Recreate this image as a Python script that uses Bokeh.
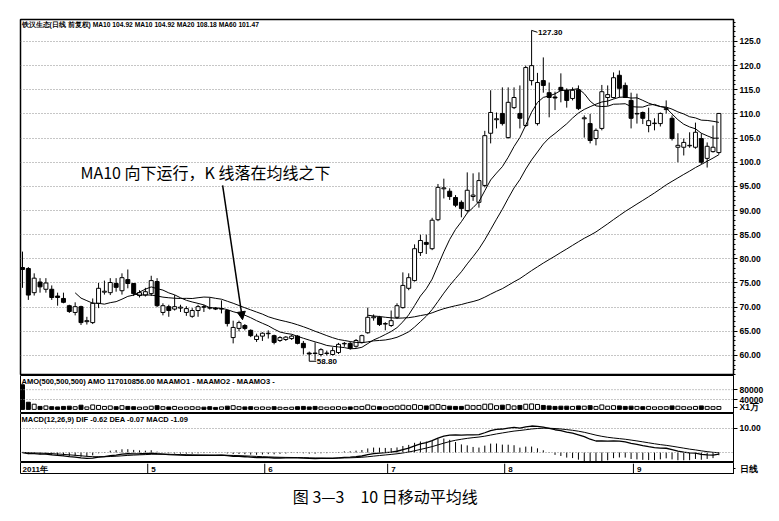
import numpy as np
import pandas as pd
from bokeh.plotting import figure
from bokeh.layouts import column
from bokeh.models import (Range1d, SingleIntervalTicker, FixedTicker, CustomJSTickFormatter,
                          Label, Arrow, NormalHead, Span)
from bokeh.core.properties import value
from bokeh.embed import file_html
from bokeh.resources import INLINE

# ---------------- data ----------------
open_ = [78.2, 78.0, 73.0, 75.2, 73.7, 73.7, 72.3, 71.8, 70.3, 68.9,
         70.1, 67.0, 66.8, 70.8, 73.1, 73.0, 74.9, 73.4, 75.7, 74.9,
         72.4, 72.5, 72.8, 75.3, 68.9, 70.1, 69.6, 69.8, 68.9, 68.1,
         69.3, 70.1, 69.9, 69.8, 69.6, 69.3, 63.7, 65.6, 66.2, 65.2,
         63.3, 64.0, 64.5, 64.1, 63.1, 63.3, 63.5, 64.0, 62.5, 60.5,
         60.5, 60.2, 60.4, 60.2, 60.6, 62.4, 62.5, 61.9, 62.7, 64.7,
         67.8, 67.9, 66.5, 66.2, 67.9, 69.9, 73.9, 75.5, 81.3, 83.4,
         82.1, 88.1, 94.5, 94.0, 92.7, 91.7, 90.0, 92.9, 91.7, 95.2,
         106.0, 108.8, 110.1, 105.1, 111.3, 110.1, 107.6, 116.9, 108.0, 116.9,
         114.4, 113.5, 115.5, 114.9, 113.2, 115.0, 109.0, 108.0, 104.9, 107.0,
         113.4, 113.4, 118.0, 115.9, 112.8, 110.0, 110.3, 107.6, 108.0, 108.0,
         110.9, 109.1, 103.1, 103.1, 103.4, 103.1, 104.9, 100.8, 102.2, 102.0]
high = [81.5, 78.3, 77.0, 76.0, 76.0, 74.5, 73.0, 73.0, 70.5, 71.0,
        70.3, 68.0, 71.8, 75.0, 75.5, 76.0, 76.0, 77.0, 77.8, 75.0,
        73.5, 74.0, 76.5, 76.0, 70.8, 70.5, 72.5, 70.5, 70.2, 69.8,
        70.5, 70.5, 72.0, 70.0, 71.4, 69.5, 67.2, 67.2, 66.5, 65.4,
        64.5, 64.8, 65.2, 64.3, 64.0, 64.0, 64.3, 64.2, 63.0, 60.8,
        62.7, 61.5, 61.0, 61.7, 62.6, 62.8, 62.8, 63.4, 64.3, 69.9,
        68.5, 68.2, 66.9, 69.3, 70.8, 77.2, 77.0, 83.0, 85.0, 85.0,
        88.5, 95.5, 96.6, 94.6, 93.2, 92.1, 97.9, 97.7, 97.9, 106.5,
        114.9, 110.3, 115.5, 115.5, 115.5, 115.9, 120.0, 127.3, 118.5, 121.7,
        116.5, 114.6, 118.4, 115.3, 115.5, 115.9, 109.7, 110.0, 107.0, 116.0,
        115.9, 118.6, 119.0, 116.5, 114.4, 114.2, 110.5, 111.3, 109.1, 110.3,
        112.8, 109.7, 106.0, 104.9, 106.2, 108.2, 106.0, 104.1, 107.6, 110.2]
low = [74.0, 71.5, 72.4, 73.0, 73.0, 71.5, 70.3, 70.8, 68.8, 68.3,
       66.3, 66.4, 66.5, 69.8, 72.6, 72.5, 73.2, 72.6, 73.9, 72.3,
       72.0, 72.2, 72.3, 70.0, 68.3, 68.0, 69.3, 69.0, 68.2, 67.8,
       68.0, 69.0, 69.5, 69.4, 68.7, 66.0, 62.5, 65.0, 65.2, 63.8,
       62.8, 63.0, 63.5, 62.3, 62.8, 63.0, 63.2, 62.3, 60.2, 58.8,
       59.0, 59.8, 60.0, 60.0, 60.3, 61.8, 61.2, 61.6, 62.5, 64.5,
       67.2, 66.1, 65.2, 65.9, 67.6, 69.7, 73.5, 75.3, 80.6, 81.0,
       81.8, 87.8, 92.5, 92.2, 90.7, 88.6, 89.6, 92.0, 90.6, 94.8,
       103.9, 107.0, 107.6, 104.9, 111.0, 107.0, 107.3, 115.9, 107.6, 114.4,
       109.3, 110.8, 112.4, 111.3, 112.8, 110.8, 105.1, 103.9, 103.5, 106.6,
       111.7, 113.2, 113.4, 113.4, 107.0, 108.0, 107.9, 106.2, 106.6, 107.4,
       110.1, 104.5, 100.0, 101.4, 103.0, 102.8, 99.6, 98.9, 102.0, 101.6]
close = [77.8, 72.5, 76.0, 74.2, 75.0, 72.0, 72.0, 71.0, 69.1, 70.1,
         66.8, 67.2, 70.8, 73.9, 73.3, 75.1, 74.1, 76.1, 74.9, 72.8,
         73.0, 73.2, 75.5, 70.3, 70.3, 69.3, 70.1, 70.0, 69.7, 69.3,
         70.1, 70.0, 69.8, 69.6, 69.7, 66.6, 65.8, 66.8, 65.6, 64.1,
         64.0, 64.6, 64.6, 62.7, 63.7, 63.8, 64.0, 62.5, 61.6, 60.3,
         60.4, 61.2, 60.5, 61.0, 62.3, 62.5, 61.5, 63.1, 64.1, 67.9,
         68.0, 66.4, 66.6, 67.2, 70.3, 74.5, 76.1, 82.1, 83.8, 83.0,
         88.0, 94.8, 94.7, 92.9, 91.1, 90.4, 94.2, 93.2, 96.2, 105.5,
         110.3, 109.0, 108.0, 112.4, 113.4, 109.1, 119.6, 120.0, 116.5, 115.9,
         113.4, 113.3, 114.9, 112.8, 114.9, 111.1, 109.2, 104.5, 106.6, 114.6,
         114.0, 117.5, 115.3, 113.4, 109.1, 110.1, 109.1, 108.6, 108.1, 110.1,
         111.1, 104.9, 103.5, 104.1, 103.5, 106.2, 100.0, 103.3, 103.1, 110.1]
amo = [100000, 29000, 21000, 12000, 14000, 11000, 10000, 12000, 13000, 11000,
       17000, 10000, 18000, 16000, 12000, 14000, 11000, 15000, 12000, 11000,
       9000, 10000, 13000, 15000, 11000, 10000, 12000, 9000, 10000, 11000,
       10000, 9000, 11000, 8000, 10000, 13000, 15000, 11000, 10000, 11000,
       9000, 10000, 9000, 11000, 9000, 8000, 9000, 11000, 12000, 10000,
       12000, 10000, 9000, 10000, 11000, 9000, 10000, 11000, 12000, 18000,
       13000, 11000, 10000, 12000, 14000, 17000, 15000, 19000, 16000, 14000,
       18000, 20000, 16000, 13000, 12000, 12000, 17000, 15000, 16000, 21000,
       22000, 15000, 17000, 19000, 14000, 16000, 21000, 22000, 20000, 16000,
       14000, 12000, 13000, 13000, 12000, 14000, 13000, 15000, 12000, 18000,
       13000, 15000, 14000, 12000, 13000, 12000, 11000, 12000, 10000, 11000,
       11000, 14000, 13000, 11000, 10000, 12000, 14000, 12000, 11000, 11701]
month_labels = ["2011年", "5", "6", "7", "8", "9"]
month_start = [0, 22, 42, 63, 83, 105]
price_ticks_interval = 5
vol_ticks = [8000, 40000, 80000]
vol_tick_labels = {8000: "X1万", 40000: "40000", 80000: "80000"}
macd_ticks = [10]

title_text = "铁汉生态(日线 前复权) MA10 104.92 MA10 104.92 MA20 108.18 MA60 101.47"
amo_text = "AMO(500,500,500) AMO 117010856.00 MAAMO1 - MAAMO2 - MAAMO3 -"
macd_text = "MACD(12,26,9) DIF -0.62 DEA -0.07 MACD -1.09"
note_text = "MA10 向下运行，K 线落在均线之下"
caption_text = "图 3—3　10 日移动平均线"

# ---------------- derived ----------------
o = np.array(open_); h = np.array(high); l = np.array(low); c = np.array(close)
n = len(c)
idx = np.arange(n)
up = c >= o
dn = ~up
s = pd.Series(c)
ma10 = s.rolling(10).mean().values
ma20 = s.rolling(20).mean().values
ma60 = s.rolling(60).mean().values
ema12 = s.ewm(span=12, adjust=False).mean()
ema26 = s.ewm(span=26, adjust=False).mean()
dif = ema12 - ema26
dea = dif.ewm(span=9, adjust=False).mean()
hist = 2 * (dif - dea)

FONT = "Liberation Sans"
FW = 713
LB = 20
RB = 31
xr = Range1d(-0.34, 121.5)
BW = 0.68


def style_right_axis(ax):
    ax.axis_line_color = "black"
    ax.major_tick_line_color = "black"
    ax.minor_tick_line_color = "black"
    ax.major_tick_in = 0
    ax.major_tick_out = 4
    ax.minor_tick_in = 0
    ax.minor_tick_out = 2
    ax.major_label_text_font = FONT
    ax.major_label_text_font_size = "8.5px"
    ax.major_label_text_font_style = "bold"
    ax.major_label_text_color = "black"
    ax.major_label_standoff = 2


def base_fig(fh, yr, top=0):
    f = figure(frame_width=FW, frame_height=fh, x_range=xr, y_range=yr,
               output_backend="svg", toolbar_location=None,
               x_axis_location=None, y_axis_location="right",
               min_border_left=LB, min_border_right=RB, min_border_top=top,
               min_border_bottom=0, background_fill_color="white",
               border_fill_color="white")
    f.outline_line_color = "black"
    f.outline_line_width = 1
    f.xgrid.visible = False
    f.ygrid.grid_line_color = "#8c8c8c"
    f.ygrid.grid_line_dash = "1 2"
    f.ygrid.grid_line_width = 1
    style_right_axis(f.yaxis[0])
    return f


# ---------------- main price panel ----------------
p = base_fig(356, Range1d(55.85, 129.55), top=19)
p.outline_line_width = 1.5
p.yaxis[0].ticker = SingleIntervalTicker(interval=price_ticks_interval, num_minor_ticks=5)
p.yaxis[0].formatter = CustomJSTickFormatter(
    code="return tick >= 100 ? tick.toFixed(1) : tick.toFixed(2);")

p.segment(x0=idx, y0=l, x1=idx, y1=h, line_color="black", line_width=1)
p.vbar(x=idx[up], width=BW, top=c[up], bottom=o[up], fill_color="white",
       line_color="black", line_width=1)
p.vbar(x=idx[dn], width=BW, top=o[dn], bottom=c[dn], fill_color="black",
       line_color="black", line_width=1)
p.line(idx, ma10, line_color="black", line_width=1)
p.line(idx, ma20, line_color="black", line_width=1)
p.line(idx, ma60, line_color="black", line_width=1)

p.add_layout(Label(x=1, y=355, x_units="screen", y_units="screen", text=title_text,
                   text_font=FONT, text_font_size="6.7px", text_font_style="bold",
                   text_baseline="top", text_color="black"))

# high / low markers
ih = int(np.argmax(h)); il = int(np.argmin(l))
p.segment(x0=[ih, il], y0=[h[ih], l[il]], x1=[ih + 1.0, il + 1.2],
          y1=[h[ih] - 0.4, l[il]], line_color="black", line_width=1)
p.text(x=[ih + 1.1], y=[h[ih] - 0.5], text=[f"{h[ih]:.2f}"], text_font=value(FONT),
       text_font_size="8px", text_font_style="bold", text_baseline="middle",
       text_align="left", text_color="black")
p.text(x=[il + 1.3], y=[l[il]], text=[f"{l[il]:.2f}"], text_font=value(FONT),
       text_font_size="8px", text_font_style="bold", text_baseline="middle",
       text_align="left", text_color="black")

# annotation
p.text(x=[9.9], y=[97.9], text=[note_text], text_font=value("Noto Sans CJK SC"),
       text_font_size="16px", text_baseline="middle", text_align="left",
       text_color="black")
p.add_layout(Arrow(end=NormalHead(size=8, fill_color="black", line_color="black"),
                   x_start=34.2, y_start=95.2, x_end=37.6, y_end=67.4,
                   line_color="black", line_width=1.5))

# ---------------- volume (AMO) panel ----------------
v = base_fig(38, Range1d(-16700, 137500))
v.yaxis[0].ticker = FixedTicker(ticks=vol_ticks)
v.yaxis[0].major_label_overrides = vol_tick_labels
v.yaxis[0].minor_tick_out = 0
v.ygrid.visible = False
for t in vol_ticks[1:]:
    v.add_layout(Span(location=t, dimension="width", line_color="#8c8c8c",
                      line_dash="1 2", line_width=1))
a = np.array(amo)
v.vbar(x=idx[up], width=BW, top=a[up], bottom=0, fill_color="white",
       line_color="black", line_width=1)
v.vbar(x=idx[dn], width=BW, top=a[dn], bottom=0, fill_color="black",
       line_color="black", line_width=1)
v.add_layout(Label(x=1, y=37, x_units="screen", y_units="screen", text=amo_text,
                   text_font=FONT, text_font_size="7.5px", text_font_style="bold",
                   text_baseline="top", text_color="black"))

# ---------------- MACD panel ----------------
m = base_fig(49, Range1d(-4.17, 16.25))
m.yaxis[0].ticker = FixedTicker(ticks=macd_ticks)
m.yaxis[0].minor_tick_out = 0
m.yaxis[0].formatter = CustomJSTickFormatter(code="return tick.toFixed(2);")
m.add_layout(Span(location=0, dimension="width", line_color="#8c8c8c",
                  line_dash="1 2", line_width=1))
m.segment(x0=idx, y0=np.zeros(n), x1=idx, y1=hist.values, line_color="black", line_width=1)
m.line(idx, dif.values, line_color="black", line_width=1.3)
m.line(idx, dea.values, line_color="black", line_width=1)
m.add_layout(Label(x=1, y=48, x_units="screen", y_units="screen", text=macd_text,
                   text_font=FONT, text_font_size="7.5px", text_font_style="bold",
                   text_baseline="top", text_color="black"))

# ---------------- date strip ----------------
d = figure(frame_width=FW, frame_height=12, x_range=xr, y_range=Range1d(0, 1),
           output_backend="svg", toolbar_location=None,
           x_axis_location=None, y_axis_location="right",
           min_border_left=LB, min_border_right=RB, min_border_top=0,
           min_border_bottom=0, background_fill_color="white", border_fill_color="white")
d.outline_line_color = "black"
d.grid.visible = False
style_right_axis(d.yaxis[0])
d.yaxis[0].ticker = FixedTicker(ticks=[0.5])
d.yaxis[0].major_label_overrides = {0.5: "日线"}
d.yaxis[0].major_tick_out = 2
d.yaxis[0].minor_tick_out = 0
d.yaxis[0].major_label_standoff = 4
ms = np.array(month_start)
d.segment(x0=ms[1:] - 0.6, y0=0.1, x1=ms[1:] - 0.6, y1=0.9, line_color="black", line_width=1)
d.text(x=ms + 0.0, y=0.45, text=month_labels, text_font=value(FONT),
       text_font_size="8px", text_font_style="bold", text_baseline="middle",
       text_align="left", text_color="black")

# ---------------- caption ----------------
cap = figure(width=LB + FW + RB, height=38, x_range=Range1d(0, LB + FW + RB),
             y_range=Range1d(0, 38), output_backend="svg", toolbar_location=None,
             x_axis_location=None, y_axis_location=None,
             min_border=0, outline_line_color=None)
cap.grid.visible = False
cap.text(x=[392], y=[17], text=[caption_text], text_font=value("Noto Sans CJK SC"),
         text_font_size="16px", text_align="center", text_baseline="middle",
         text_color="black")

layout = column(p, v, m, d, cap, spacing=0)
open("out.html", "w").write(file_html(layout, INLINE))
